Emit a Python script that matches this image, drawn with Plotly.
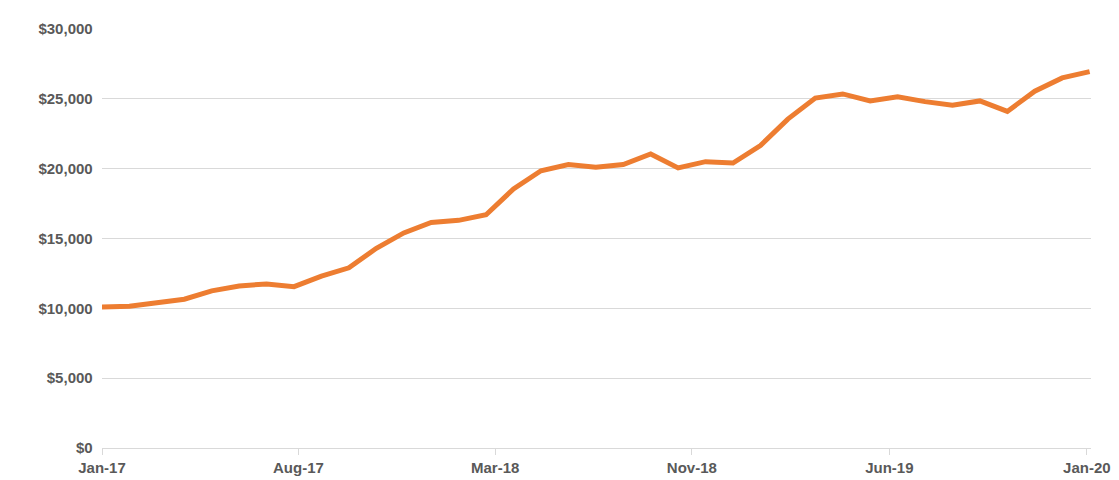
import plotly.graph_objects as go

values = [10100,10150,10400,10650,11250,11600,11750,11550,12300,12900,14300,15400,
          16150,16300,16700,18550,19850,20300,20100,20300,21050,20050,20500,20400,
          21650,23550,25050,25350,24850,25150,24800,24550,24850,24100,25550,26500,26950]
idx = list(range(len(values)))
tick_pos = [0, 7.16, 14.33, 21.5, 28.7, 35.9]
tick_labels = ["Jan-17", "Aug-17", "Mar-18", "Nov-18", "Jun-19", "Jan-20"]

fig = go.Figure(go.Scatter(x=idx, y=values, mode="lines",
                           line=dict(color="#ED7D31", width=5), hoverinfo="skip"))
font = dict(family="Liberation Sans, Arial", size=15, color="#595959", weight="bold")
fig.update_layout(
    width=1119, height=480, margin=dict(l=94, r=36, t=16, b=37),
    plot_bgcolor="white", paper_bgcolor="white", showlegend=False,
    xaxis=dict(range=[0, 36.05], tickvals=tick_pos, ticktext=tick_labels,
               showgrid=False, showline=True, linecolor="#D9D9D9", linewidth=1,
               ticks="outside", tickcolor="#D9D9D9", ticklen=6, tickfont=font, zeroline=False),
    yaxis=dict(range=[0, 30000], dtick=5000, tickformat="$,.0f", showgrid=True,
               gridcolor="#D9D9D9", zeroline=False, tickfont=font, ticksuffix="  "),
)
fig.write_html("out.html")
